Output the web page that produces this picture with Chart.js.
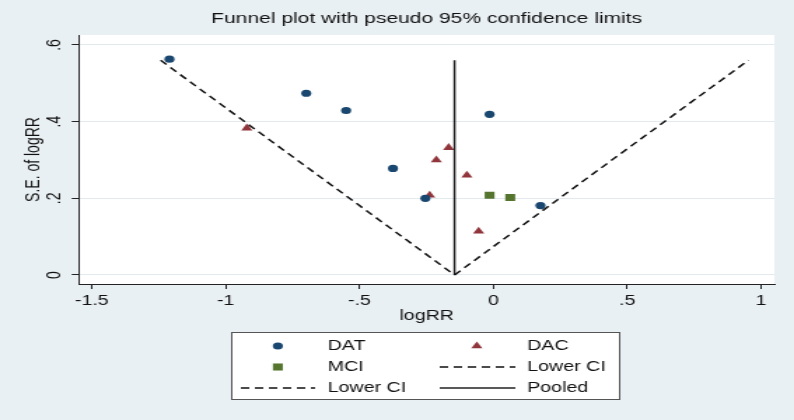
<!DOCTYPE html>
<html lang="en">
<head>
  <meta charset="UTF-8" />
  <title>Funnel plot</title>
  <script src="https://cdn.jsdelivr.net/npm/chart.js"></script>
  <style>
    body {
      margin: 0;
      background-color: #e9f0f3;
    }

    #wrap {
      width: 794px;
      height: 420px;
      overflow: hidden;
    }
  </style>
</head>
<body>
  <div id="wrap">
    <!-- the reference is stretched sideways, so draw narrow and widen with css -->
    <canvas id="funnel" width="567" height="420" style="width:794px;height:420px"></canvas>
  </div>

  <script>
    const titleText = "Funnel plot with pseudo 95% confidence limits";

    const xTicks = [-1.5, -1, -0.5, 0, 0.5, 1];
    const xTickLabels = ["-1.5", "-1", "-.5", "0", ".5", "1"];
    const yTicks = [0, 0.2, 0.4, 0.6];
    const yTickLabels = ["0", ".2", ".4", ".6"];

    const datLogRR = [-1.210, -0.699, -0.550, -0.375, -0.014, -0.254, 0.176];
    const datSE    = [0.563, 0.474, 0.429, 0.278, 0.419, 0.200, 0.181];

    const dacLogRR = [-0.921, -0.167, -0.213, -0.099, -0.238, -0.055];
    const dacSE    = [0.383, 0.332, 0.300, 0.260, 0.208, 0.114];

    const mciLogRR = [-0.014, 0.063];
    const mciSE    = [0.208, 0.202];

    const ciRightLogRR = [-0.145, 0.953];
    const ciRightSE    = [0, 0.56];
    const ciLeftLogRR  = [-1.243, -0.145];
    const ciLeftSE     = [0.56, 0];
    const pooledLogRR  = [-0.145, -0.145];
    const pooledSE     = [0, 0.56];

    const FONT = "'Liberation Sans', Arial, sans-serif";

    function pts(xs, ys) {
      return xs.map((x, i) => ({ x: x, y: ys[i] }));
    }

    const stataDecor = {
      id: "stataDecor",
      beforeDraw(chart) {
        const { ctx, chartArea: a } = chart;
        ctx.save();
        ctx.fillStyle = "#ffffff";
        ctx.fillRect(a.left, a.top, a.right - a.left, a.bottom - a.top);
        ctx.restore();
      },
      afterDraw(chart) {
        const { ctx, chartArea: a } = chart;
        ctx.save();

        // title, centred over the plot region
        ctx.fillStyle = "#111";
        ctx.font = "15px " + FONT;
        ctx.textAlign = "center";
        ctx.textBaseline = "middle";
        ctx.fillText(titleText, (a.left + a.right) / 2, 19);

        // legend box, two columns
        const box = { left: 165, top: 332, right: 442, bottom: 399 };
        ctx.fillStyle = "#ffffff";
        ctx.fillRect(box.left, box.top, box.right - box.left, box.bottom - box.top);
        ctx.strokeStyle = "#555";
        ctx.lineWidth = 1;
        ctx.strokeRect(box.left + 0.5, box.top + 0.5, box.right - box.left, box.bottom - box.top);

        const rows = [346, 367, 388];
        const cols = [
          { sym: 198.4, lineFrom: 172, lineTo: 225, text: 234 },
          { sym: 340.5, lineFrom: 314, lineTo: 368, text: 376.5 }
        ];
        ctx.font = "14px " + FONT;
        ctx.textAlign = "left";
        chart.data.datasets.forEach((ds, i) => {
          const c = cols[i % 2];
          const y = rows[Math.floor(i / 2)];
          if (ds.showLine) {
            ctx.strokeStyle = ds.borderColor;
            ctx.lineWidth = ds.borderWidth;
            ctx.setLineDash(ds.borderDash || []);
            ctx.beginPath();
            ctx.moveTo(c.lineFrom, y);
            ctx.lineTo(c.lineTo, y);
            ctx.stroke();
            ctx.setLineDash([]);
          } else {
            ctx.fillStyle = ds.backgroundColor;
            ctx.strokeStyle = ds.backgroundColor;
            Chart.helpers.drawPoint(ctx, {
              pointStyle: ds.pointStyle, radius: ds.pointRadius, rotation: 0, borderWidth: 0
            }, c.sym, y);
          }
          ctx.fillStyle = "#111";
          ctx.fillText(ds.label, c.text, y);
        });
        ctx.restore();
      }
    };

    const ctx = document.getElementById("funnel").getContext("2d");

    new Chart(ctx, {
      type: "scatter",
      data: {
        datasets: [
          {
            label: "DAT", data: pts(datLogRR, datSE), pointStyle: "circle",
            pointRadius: 3.6, backgroundColor: "#1a476f", borderColor: "#1a476f",
            borderWidth: 0, order: 2
          },
          {
            label: "DAC", data: pts(dacLogRR, dacSE), pointStyle: "triangle",
            pointRadius: 4.6, backgroundColor: "#90353b", borderColor: "#90353b",
            borderWidth: 0, order: 2
          },
          {
            label: "MCI", data: pts(mciLogRR, mciSE), pointStyle: "rect",
            pointRadius: 5, backgroundColor: "#55752f", borderColor: "#55752f",
            borderWidth: 0, order: 2
          },
          {
            label: "Lower CI", data: pts(ciRightLogRR, ciRightSE), showLine: true,
            pointRadius: 0, borderColor: "#111", borderWidth: 1.5, borderDash: [6, 4],
            order: 1
          },
          {
            label: "Lower CI", data: pts(ciLeftLogRR, ciLeftSE), showLine: true,
            pointRadius: 0, borderColor: "#111", borderWidth: 1.5, borderDash: [6, 4],
            order: 1
          },
          {
            label: "Pooled", data: pts(pooledLogRR, pooledSE), showLine: true,
            pointRadius: 0, borderColor: "#222", borderWidth: 1.5, order: 1
          }
        ]
      },
      options: {
        responsive: false,
        animation: false,
        events: [],
        layout: { padding: { top: 35, right: 14, left: 0, bottom: 0 } },
        plugins: {
          legend: { display: false },
          tooltip: { enabled: false },
          title: { display: false }
        },
        scales: {
          x: {
            type: "linear",
            min: -1.548,
            max: 1.050,
            afterBuildTicks: s => { s.ticks = xTicks.map(v => ({ value: v })); },
            afterFit: s => { s.height = 136; },
            ticks: {
              color: "#111",
              font: { family: FONT, size: 14 },
              padding: 4,
              maxRotation: 0,
              callback: v => xTickLabels[xTicks.indexOf(v)]
            },
            grid: { drawOnChartArea: false, tickLength: 5, color: "#222" },
            border: { display: true, color: "#222", width: 1 },
            title: {
              display: true, text: "logRR", color: "#111",
              font: { family: FONT, size: 14 },
              padding: { top: 0, bottom: 95 }
            }
          },
          y: {
            type: "linear",
            min: -0.0235,
            max: 0.626,
            afterBuildTicks: s => { s.ticks = yTicks.map(v => ({ value: v })); },
            afterFit: s => { s.width = 56.4; },
            ticks: {
              color: "#111",
              font: { family: FONT, size: 14 },
              padding: 6.5,
              minRotation: 90,
              maxRotation: 90,
              crossAlign: "center",
              callback: v => yTickLabels[yTicks.indexOf(v)]
            },
            grid: { color: "#e3eaee", tickColor: "#222", tickLength: 5.2, lineWidth: 1 },
            border: { display: true, color: "#222", width: 1 },
            title: {
              display: true, text: "S.E. of logRR", color: "#111",
              font: { family: FONT, size: 14 },
              padding: { top: 16, bottom: 0 }
            }
          }
        }
      },
      plugins: [stataDecor]
    });
  </script>
</body>
</html>
